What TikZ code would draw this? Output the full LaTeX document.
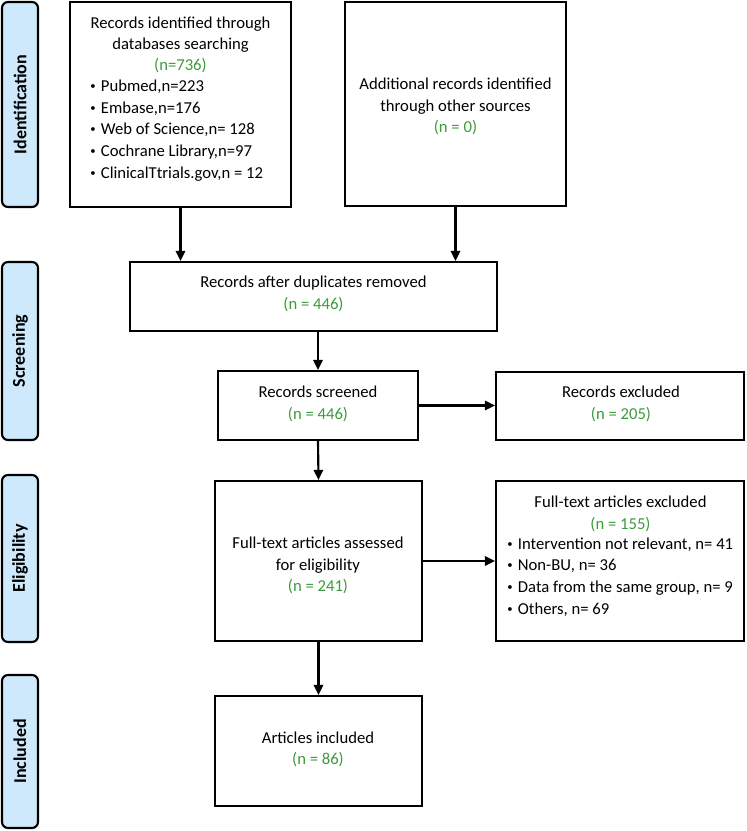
\documentclass[tikz,border=0pt]{standalone}
\usepackage{fontspec}
\setmainfont{Carlito}
\usetikzlibrary{arrows.meta}
\definecolor{phasefill}{RGB}{205,233,251}
\definecolor{ngreen}{RGB}{60,155,60}
\newcommand\bulitem{\raisebox{0.25ex}{\fontsize{8}{8}\selectfont •}\hspace{0.32em}}
\begin{document}
\begin{tikzpicture}[x=0.75pt,y=-0.75pt,
  box/.style={draw=black, line width=1.6pt, rectangle, inner sep=0pt},
  phase/.style={draw=black, line width=1.6pt, fill=phasefill, rounded corners=4.5pt, inner sep=0pt, minimum width=27pt},
  phasetext/.style={rotate=90, inner sep=0pt, font=\fontsize{13.5}{15}\selectfont\bfseries},
  txt/.style={align=center, inner sep=0pt, font=\fontsize{12.5}{16}\selectfont},
  ltxt/.style={align=left, inner sep=0pt, anchor=west, font=\fontsize{12.5}{16.2}\selectfont},
  arr/.style={line width=1.6pt, -{Triangle[length=7.5pt,width=7pt]}}
]
\fill[white] (0,0) rectangle (746,831);
\useasboundingbox (0,0) rectangle (746,831);

% phase boxes
\node[phase, minimum height=153.75pt] (pid) at (20,104.5) {};
\node[phasetext] (pidt) at (pid.center) {Identification};
\node[phase, minimum height=133.5pt] (pscr) at (20,351) {};
\node[phasetext] (pscrt) at (pscr.center) {Screening};
\node[phase, minimum height=125.25pt] (pel) at (20,558.5) {};
\node[phasetext] (pelt) at (pel.center) {Eligibility};
\node[phase, minimum height=114.75pt] (pin) at (20,751.5) {};
\node[phasetext] (pint) at (pin.center) {Included};

% boxes
\node[box, minimum width=165.75pt, minimum height=153.75pt] (b1) at (180.5,104.5) {};
\node[box, minimum width=165.75pt, minimum height=153pt] (b2) at (455.5,104) {};
\node[box, minimum width=275.25pt, minimum height=51.75pt] (dup) at (313.5,296.5) {};
\node[box, minimum width=150pt, minimum height=51.75pt] (scr) at (318,405.5) {};
\node[box, minimum width=186pt, minimum height=51pt] (exc1) at (620,406) {};
\node[box, minimum width=155.25pt, minimum height=120pt] (full) at (318.5,561) {};
\node[box, minimum width=186pt, minimum height=120pt] (exc2) at (620,561) {};
\node[box, minimum width=155.25pt, minimum height=82.5pt] (incl) at (318.5,751) {};

% texts
\node[txt] (b1h) at (180.5,45) {Records identified through\\databases searching\\\textcolor{ngreen}{(n=736)}};
\node[ltxt] (b1l) at (90,130.5) {\bulitem Pubmed,n=223\\\bulitem Embase,n=176\\\bulitem Web of Science,n= 128\\\bulitem Cochrane Library,n=97\\\bulitem ClinicalTtrials.gov,n = 12};
\node[txt] (b2t) at (455.5,106.5) {Additional records identified\\through other sources\\\textcolor{ngreen}{(n = 0)}};
\node[txt] (dupt) at (313.5,294) {Records after duplicates removed\\\textcolor{ngreen}{(n = 446)}};
\node[txt] (scrt) at (318,404) {Records screened\\\textcolor{ngreen}{(n = 446)}};
\node[txt] (exc1t) at (621,404) {Records excluded\\\textcolor{ngreen}{(n = 205)}};
\node[txt] (exc2h) at (620.5,514) {Full-text articles excluded\\\textcolor{ngreen}{(n = 155)}};
\node[ltxt] (exc2l) at (507,577) {\bulitem Intervention not relevant, n= 41\\\bulitem Non-BU, n= 36\\\bulitem Data from the same group, n= 9\\\bulitem Others, n= 69};
\node[txt] (fullt) at (318,565.5) {Full-text articles assessed\\for eligibility\\\textcolor{ngreen}{(n = 241)}};
\node[txt] (inclt) at (318,749.5) {Articles included\\\textcolor{ngreen}{(n = 86)}};

% connectors
\draw[arr] (b1.south) -- (b1.south |- dup.north);
\draw[arr] (b2.south) -- (b2.south |- dup.north);
\draw[arr] (scr.north |- dup.south) -- (scr.north);
\draw[arr] (scr.east) -- (exc1.west |- scr.east);
\draw[arr] (scr.south) -- (full.north);
\draw[arr] (full.east) -- (exc2.west |- full.east);
\draw[arr] (full.south) -- (incl.north);
\end{tikzpicture}
\end{document}
